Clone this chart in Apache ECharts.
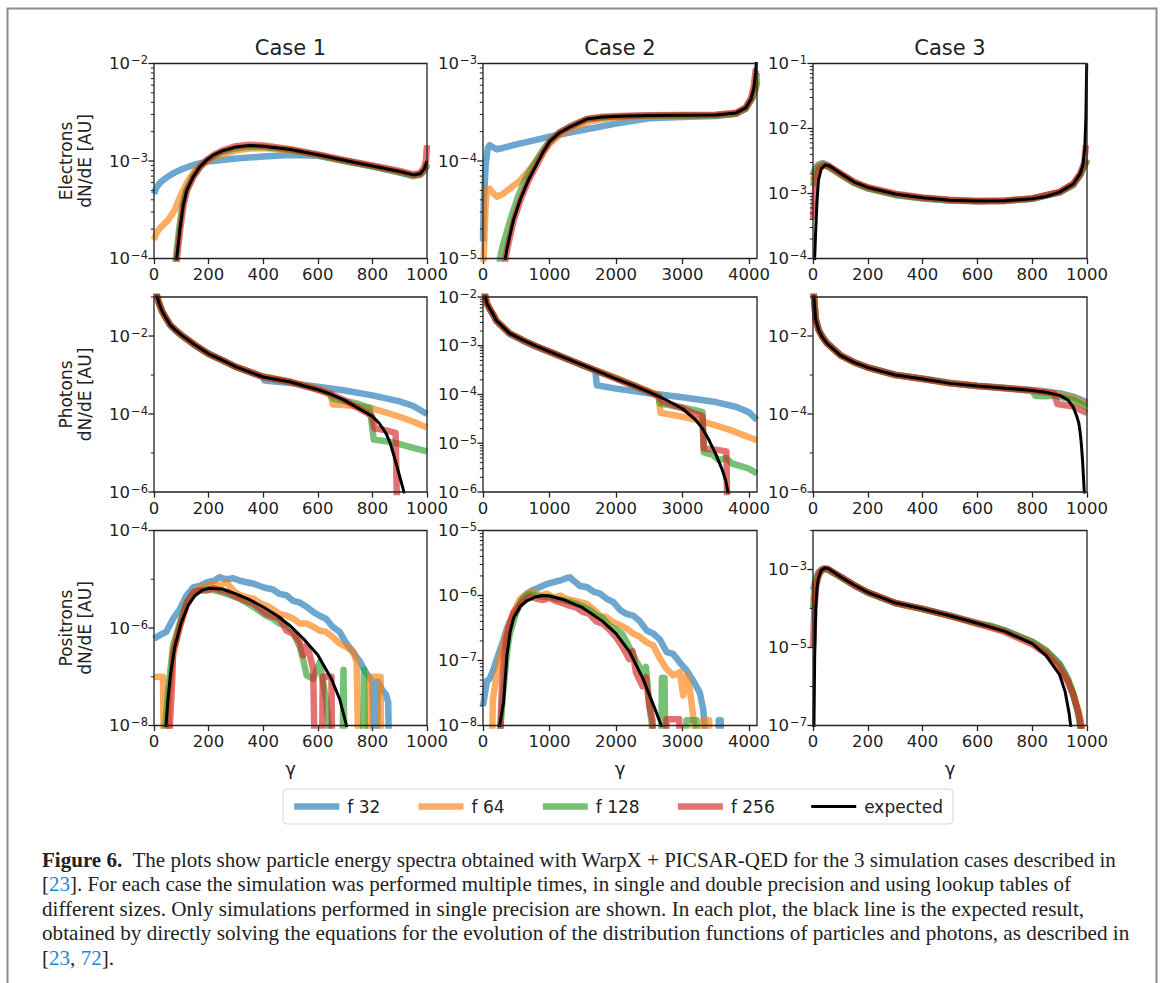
<!DOCTYPE html>
<html><head><meta charset="utf-8">
<script src="https://cdn.jsdelivr.net/npm/echarts@6/dist/echarts.min.js"></script>
<style>html,body{margin:0;padding:0;background:#fff}#chart{width:1163px;height:983px}</style>
</head><body><div id="chart"></div>
<script>
// ---------------- labels ----------------
const seriesNames = ['f 32', 'f 64', 'f 128', 'f 256', 'expected'];
const caseTitles = ['Case 1', 'Case 2', 'Case 3'];
const rowLabels = ['Electrons\ndN/dE [AU]', 'Photons\ndN/dE [AU]', 'Positrons\ndN/dE [AU]'];
const xLabel = 'γ';
const xTicksCase1 = [0, 200, 400, 600, 800, 1000];
const xTicksCase2 = [0, 1000, 2000, 3000, 4000];
const xTicksCase3 = [0, 200, 400, 600, 800, 1000];
const xRangeCase1 = [0, 1000];
const xRangeCase2 = [0, 4120];
const xRangeCase3 = [0, 1000];
// y ranges (decade exponents) per row, per case
const yRangeElectrons = [[-4, -2], [-5, -3], [-4, -1]];
const yRangePhotons = [[-6, -1], [-6, -2], [-6, -1]];
const yRangePositrons = [[-8, -4], [-8, -5], [-7, -2]];
const yLabelsElectrons = [[-4, -3, -2], [-5, -4, -3], [-4, -3, -2, -1]];
const yLabelsPhotons = [[-6, -4, -2], [-6, -5, -4, -3, -2], [-6, -4, -2]];
const yLabelsPositrons = [[-8, -6, -4], [-8, -7, -6, -5], [-7, -5, -3]];
const minorSubs = [2, 3, 4, 5, 6, 7, 8, 9];

// ---------------- data: Case 1 electrons ----------------
const el1_f32 = [[0,4.6e-4],[10,5.4e-4],[25,6.1e-4],[50,6.9e-4],[75,7.6e-4],[100,8.2e-4],[150,9.2e-4],[200,9.9e-4],[300,1.06e-3],[400,1.11e-3],[500,1.15e-3],[600,1.13e-3],[700,1.0e-3],[800,8.8e-4],[900,7.6e-4],[950,7.0e-4],[975,7.2e-4],[990,7.9e-4],[1000,9.0e-4]];
const el1_f64 = [[0,1.55e-4],[10,1.85e-4],[25,2.1e-4],[50,2.45e-4],[75,3.1e-4],[100,4.6e-4],[125,6.3e-4],[150,8.0e-4],[175,9.3e-4],[200,1.02e-3],[250,1.17e-3],[300,1.28e-3],[350,1.34e-3],[400,1.36e-3],[500,1.29e-3],[600,1.15e-3],[700,1.0e-3],[800,8.8e-4],[900,7.7e-4],[950,7.1e-4],[975,7.3e-4],[990,8.0e-4],[1000,9.3e-4]];
const el1_f128 = [[76,5e-5],[80,1e-4],[92,2.0e-4],[104,3.5e-4],[118,5.0e-4],[143,7.0e-4],[168,8.8e-4],[193,1.02e-3],[220,1.13e-3],[250,1.24e-3],[300,1.35e-3],[350,1.4e-3],[400,1.39e-3],[500,1.3e-3],[600,1.15e-3],[700,1.0e-3],[800,8.8e-4],[900,7.7e-4],[950,7.1e-4],[975,7.3e-4],[990,8.1e-4],[1000,9.5e-4]];
const el1_f256 = [[80,5e-5],[84,1e-4],[96,2.0e-4],[108,3.5e-4],[121,5.0e-4],[145,6.9e-4],[170,8.7e-4],[195,1.03e-3],[220,1.16e-3],[250,1.28e-3],[300,1.42e-3],[350,1.47e-3],[400,1.44e-3],[500,1.32e-3],[600,1.17e-3],[700,1.02e-3],[800,9.0e-4],[900,7.9e-4],[950,7.3e-4],[975,7.5e-4],[990,8.6e-4],[996,1.0e-3],[1000,1.45e-3]];
const el1_exp = [[80,5e-5],[83,1e-4],[95,2.0e-4],[107,3.5e-4],[120,5.0e-4],[144,6.9e-4],[168,8.7e-4],[193,1.02e-3],[217,1.15e-3],[250,1.27e-3],[300,1.39e-3],[350,1.44e-3],[400,1.42e-3],[500,1.31e-3],[600,1.16e-3],[700,1.01e-3],[800,8.9e-4],[900,7.8e-4],[950,7.2e-4],[975,7.4e-4],[990,8.3e-4],[1000,1.0e-3]];

// ---------------- data: Case 2 electrons ----------------
const el2_f32 = [[0,1.5e-5],[10,3.6e-5],[40,9e-5],[70,1.35e-4],[100,1.45e-4],[150,1.38e-4],[210,1.32e-4],[300,1.36e-4],[500,1.48e-4],[800,1.65e-4],[1000,1.78e-4],[1500,2.08e-4],[2000,2.42e-4],[2500,2.74e-4],[3000,2.82e-4],[3500,2.9e-4],[3800,3.05e-4],[3950,3.45e-4],[4050,4.4e-4],[4100,5.5e-4],[4120,6.5e-4]];
const el2_f64 = [[0,7e-6],[20,1.5e-5],[40,3.5e-5],[60,5.2e-5],[100,5.2e-5],[150,4.7e-5],[210,4.3e-5],[300,4.6e-5],[400,5.2e-5],[560,6.3e-5],[700,8.2e-5],[810,1.02e-4],[1000,1.5e-4],[1150,1.85e-4],[1310,2.15e-4],[1600,2.55e-4],[2000,2.8e-4],[2500,2.9e-4],[3000,2.93e-4],[3500,2.95e-4],[3800,3.05e-4],[3950,3.45e-4],[4050,4.5e-4],[4100,5.5e-4],[4120,7e-4]];
const el2_f128 = [[240,7e-6],[255,1e-5],[290,1.3e-5],[350,1.8e-5],[420,2.6e-5],[520,4.2e-5],[640,6.6e-5],[780,9.6e-5],[900,1.3e-4],[1000,1.6e-4],[1150,1.97e-4],[1310,2.25e-4],[1560,2.68e-4],[1800,2.8e-4],[2060,2.86e-4],[2500,2.92e-4],[3000,2.93e-4],[3500,2.95e-4],[3800,3.05e-4],[3950,3.45e-4],[4050,4.5e-4],[4100,6e-4],[4120,8e-4]];
const el2_f256 = [[320,7e-6],[338,1e-5],[365,1.25e-5],[405,1.66e-5],[465,2.5e-5],[565,4.0e-5],[685,6.3e-5],[815,9.3e-5],[905,1.22e-4],[1000,1.56e-4],[1150,1.96e-4],[1310,2.26e-4],[1560,2.7e-4],[1800,2.84e-4],[2060,2.9e-4],[2500,2.95e-4],[3000,2.96e-4],[3500,2.98e-4],[3800,3.12e-4],[3950,3.55e-4],[4030,4.4e-4],[4070,5.8e-4],[4100,8.5e-4],[4110,8.7e-4]];
const el2_exp = [[320,7e-6],[335,1e-5],[360,1.25e-5],[400,1.66e-5],[460,2.5e-5],[560,4.0e-5],[680,6.3e-5],[810,9.3e-5],[900,1.22e-4],[1000,1.58e-4],[1150,1.95e-4],[1310,2.24e-4],[1560,2.69e-4],[1800,2.82e-4],[2060,2.88e-4],[2500,2.93e-4],[3000,2.94e-4],[3500,2.96e-4],[3800,3.1e-4],[3950,3.5e-4],[4030,4.3e-4],[4070,5.5e-4],[4100,8e-4],[4115,1.2e-3]];

// ---------------- data: Case 3 electrons ----------------
const el3_f32 = [[0,2.0e-3],[10,2.5e-3],[20,2.8e-3],[35,2.95e-3],[50,2.8e-3],[100,2.0e-3],[150,1.46e-3],[200,1.2e-3],[300,9.5e-4],[400,8.4e-4],[500,7.8e-4],[600,7.7e-4],[700,7.8e-4],[800,8.3e-4],[900,1.04e-3],[950,1.35e-3],[975,1.9e-3],[990,2.6e-3],[1000,3.2e-3]];
const el3_f64 = [[0,1.6e-3],[10,2.3e-3],[20,2.7e-3],[35,2.85e-3],[50,2.75e-3],[100,2.0e-3],[150,1.48e-3],[200,1.22e-3],[300,9.7e-4],[400,8.5e-4],[500,7.9e-4],[600,7.7e-4],[700,7.8e-4],[800,8.4e-4],[900,1.05e-3],[950,1.4e-3],[975,1.95e-3],[990,2.7e-3],[1000,3.3e-3]];
const el3_f128 = [[0,1.3e-3],[10,2.2e-3],[20,2.6e-3],[35,2.75e-3],[50,2.65e-3],[100,1.95e-3],[150,1.45e-3],[200,1.2e-3],[300,9.6e-4],[400,8.5e-4],[500,7.8e-4],[600,7.6e-4],[700,7.7e-4],[800,8.3e-4],[900,1.04e-3],[950,1.38e-3],[975,1.95e-3],[990,2.7e-3],[1000,3.4e-3]];
const el3_f256 = [[0,4e-4],[8,1.2e-3],[15,2.0e-3],[25,2.5e-3],[40,2.7e-3],[60,2.6e-3],[100,2.05e-3],[150,1.52e-3],[200,1.25e-3],[300,9.9e-4],[400,8.7e-4],[500,8.0e-4],[600,7.6e-4],[700,7.7e-4],[800,8.4e-4],[900,1.06e-3],[950,1.42e-3],[975,2.0e-3],[990,3.0e-3],[996,5.5e-3]];
const el3_exp = [[3,5e-5],[6,1e-4],[10,2.8e-4],[15,8e-4],[20,1.6e-3],[30,2.4e-3],[45,2.75e-3],[60,2.65e-3],[100,2.05e-3],[150,1.5e-3],[200,1.24e-3],[300,9.8e-4],[400,8.6e-4],[500,7.9e-4],[600,7.7e-4],[700,7.75e-4],[800,8.3e-4],[850,9.0e-4],[900,1.05e-3],[950,1.4e-3],[975,2.0e-3],[985,2.7e-3],[992,5e-3],[996,1.5e-2],[999,1e-1]];

// ---------------- data: Case 1 photons ----------------
const ph1_f32 = [[2,2e-1],[12,1e-1],[20,6.3e-2],[30,4.2e-2],[40,3.1e-2],[60,1.85e-2],[80,1.35e-2],[100,1.03e-2],[150,5.7e-3],[200,3.4e-3],[250,2.35e-3],[300,1.6e-3],[398,8.9e-4],[405,7.2e-4],[450,6.7e-4],[500,6.2e-4],[600,5.0e-4],[700,4.0e-4],[800,3.0e-4],[900,2.1e-4],[950,1.6e-4],[1000,1.0e-4]];
const ph1_f64 = [[2,2e-1],[12,1e-1],[20,6.5e-2],[30,4.3e-2],[40,3.2e-2],[60,1.9e-2],[80,1.4e-2],[100,1.06e-2],[150,5.9e-3],[200,3.5e-3],[250,2.4e-3],[300,1.63e-3],[400,9.2e-4],[500,6.8e-4],[600,4.4e-4],[645,3.4e-4],[655,1.75e-4],[700,1.7e-4],[800,1.4e-4],[900,8.5e-5],[950,6.3e-5],[1000,4.5e-5]];
const ph1_f128 = [[2,2e-1],[12,1e-1],[20,6.4e-2],[30,4.3e-2],[40,3.2e-2],[60,1.9e-2],[80,1.4e-2],[100,1.06e-2],[150,5.9e-3],[200,3.5e-3],[250,2.4e-3],[300,1.62e-3],[400,9.0e-4],[500,6.6e-4],[600,4.2e-4],[645,3.3e-4],[655,2.5e-4],[700,2.15e-4],[750,1.8e-4],[790,1.45e-4],[805,2.2e-5],[850,2.0e-5],[900,1.7e-5],[950,1.35e-5],[1000,1.1e-5]];
const ph1_f256 = [[2,2e-1],[12,1e-1],[20,6.5e-2],[30,4.3e-2],[40,3.2e-2],[60,1.9e-2],[80,1.4e-2],[100,1.07e-2],[150,5.9e-3],[200,3.5e-3],[250,2.4e-3],[300,1.62e-3],[400,8.9e-4],[500,6.6e-4],[600,4.2e-4],[650,3.2e-4],[700,2.2e-4],[750,1.4e-4],[798,9.0e-5],[808,4.3e-5],[850,3.8e-5],[885,3.3e-5],[892,1e-7]];
const ph1_exp = [[3,2e-1],[12,1e-1],[20,6.5e-2],[30,4.3e-2],[40,3.2e-2],[60,1.9e-2],[80,1.4e-2],[100,1.07e-2],[150,5.9e-3],[200,3.5e-3],[250,2.4e-3],[300,1.62e-3],[400,8.9e-4],[500,6.6e-4],[600,4.2e-4],[650,3.2e-4],[700,2.2e-4],[750,1.38e-4],[800,8.7e-5],[825,5.8e-5],[850,3.2e-5],[865,1.8e-5],[880,8e-6],[890,4.5e-6],[900,2.5e-6],[910,1.4e-6],[917,9e-7]];

// ---------------- data: Case 2 photons ----------------
const ph2_f32 = [[0,3e-2],[30,1.1e-2],[60,7.1e-3],[100,5.6e-3],[160,4.1e-3],[200,3.2e-3],[400,1.75e-3],[600,1.27e-3],[800,9.5e-4],[1000,7.4e-4],[1250,5.4e-4],[1500,3.95e-4],[1690,3.1e-4],[1710,1.55e-4],[2000,1.32e-4],[2500,1.06e-4],[3000,8.8e-5],[3500,7.0e-5],[3800,5.6e-5],[4000,4.3e-5],[4120,3.0e-5]];
const ph2_f64 = [[0,3e-2],[30,1.1e-2],[60,7.3e-3],[100,5.8e-3],[160,4.2e-3],[200,3.3e-3],[400,1.8e-3],[600,1.3e-3],[800,9.7e-4],[1000,7.5e-4],[1250,5.5e-4],[1500,4.0e-4],[1750,2.95e-4],[2000,2.2e-4],[2250,1.6e-4],[2500,1.15e-4],[2640,9.5e-5],[2670,4.2e-5],[3000,3.5e-5],[3300,2.8e-5],[3700,1.9e-5],[4120,1.15e-5]];
const ph2_f128 = [[0,3e-2],[30,1.1e-2],[60,7.3e-3],[100,5.8e-3],[160,4.2e-3],[200,3.3e-3],[400,1.8e-3],[600,1.3e-3],[800,9.8e-4],[1000,7.6e-4],[1250,5.5e-4],[1500,4.0e-4],[1750,2.9e-4],[2000,2.15e-4],[2250,1.55e-4],[2500,1.12e-4],[2640,9.3e-5],[2660,6.5e-5],[3000,5.4e-5],[3300,4.4e-5],[3320,6.5e-6],[3450,5.8e-6],[3550,4.5e-6],[3650,5.0e-6],[3750,3.8e-6],[3900,3.3e-6],[4000,3.0e-6],[4120,2.4e-6]];
const ph2_f256 = [[0,3e-2],[30,1.1e-2],[60,7.3e-3],[100,5.8e-3],[160,4.2e-3],[200,3.3e-3],[400,1.8e-3],[600,1.3e-3],[800,9.8e-4],[1000,7.6e-4],[1250,5.5e-4],[1500,4.0e-4],[1750,2.9e-4],[2000,2.1e-4],[2250,1.55e-4],[2500,1.12e-4],[2650,9.0e-5],[2700,7.2e-5],[3000,5.2e-5],[3200,4.0e-5],[3300,3.6e-5],[3320,7.8e-6],[3500,7.4e-6],[3660,6.8e-6],[3680,1e-7]];
const ph2_exp = [[0,3e-2],[30,1.1e-2],[60,7.3e-3],[100,5.8e-3],[160,4.2e-3],[200,3.3e-3],[400,1.8e-3],[600,1.3e-3],[800,9.8e-4],[1000,7.6e-4],[1250,5.5e-4],[1500,4.0e-4],[1750,2.9e-4],[2000,2.1e-4],[2250,1.55e-4],[2500,1.12e-4],[2750,7.8e-5],[3000,5.1e-5],[3200,3.0e-5],[3300,2.0e-5],[3400,1.15e-5],[3500,6e-6],[3600,2.8e-6],[3650,1.7e-6],[3690,9e-7]];

// ---------------- data: Case 3 photons ----------------
const ph3_f32 = [[0,2e-1],[4,9e-2],[10,2.8e-2],[21,1.45e-2],[33,1e-2],[51,6.7e-3],[100,3.3e-3],[150,2.15e-3],[200,1.58e-3],[300,1.02e-3],[400,8.1e-4],[500,6.3e-4],[600,5.3e-4],[700,4.7e-4],[800,4.1e-4],[850,3.8e-4],[900,3.4e-4],[950,2.8e-4],[1000,2.0e-4]];
const ph3_f64 = [[0,2e-1],[4,9e-2],[10,2.7e-2],[21,1.42e-2],[33,9.8e-3],[51,6.6e-3],[100,3.25e-3],[150,2.12e-3],[200,1.56e-3],[300,1.01e-3],[400,8.0e-4],[500,6.2e-4],[600,5.25e-4],[700,4.65e-4],[800,4.0e-4],[850,3.7e-4],[900,3.2e-4],[950,2.6e-4],[1000,1.75e-4]];
const ph3_f128 = [[0,2e-1],[4,9e-2],[10,2.7e-2],[21,1.4e-2],[33,9.7e-3],[51,6.5e-3],[100,3.2e-3],[150,2.1e-3],[200,1.55e-3],[300,1.0e-3],[400,7.9e-4],[500,6.1e-4],[600,5.2e-4],[700,4.6e-4],[800,3.95e-4],[812,2.9e-4],[850,2.85e-4],[880,2.95e-4],[950,2.3e-4],[1000,1.5e-4]];
const ph3_f256 = [[0,2e-1],[4,9e-2],[10,2.7e-2],[21,1.4e-2],[33,9.7e-3],[51,6.5e-3],[100,3.2e-3],[150,2.1e-3],[200,1.55e-3],[300,1.0e-3],[400,7.9e-4],[500,6.1e-4],[600,5.2e-4],[700,4.6e-4],[800,4.0e-4],[880,3.3e-4],[892,1.8e-4],[950,1.55e-4],[1000,1.05e-4]];
const ph3_exp = [[1,2e-1],[3,1e-1],[10,2.6e-2],[21,1.4e-2],[33,9.6e-3],[51,6.5e-3],[100,3.2e-3],[150,2.1e-3],[200,1.55e-3],[300,1.0e-3],[400,7.9e-4],[500,6.1e-4],[600,5.2e-4],[700,4.6e-4],[800,4.0e-4],[850,3.6e-4],[900,3.0e-4],[930,2.3e-4],[950,1.5e-4],[962,9e-5],[970,5.9e-5],[976,3e-5],[980,1.5e-5],[984,6e-6],[987,2.5e-6],[990,1e-6],[992,5e-7]];

// ---------------- data: Case 1 positrons ----------------
const po1_f32 = [[0,6.0e-7],[20,7.1e-7],[45,8.3e-7],[70,1.55e-6],[95,2.45e-6],[120,4.7e-6],[145,6.9e-6],[170,7.4e-6],[195,8.7e-6],[220,9.3e-6],[240,1.1e-5],[265,1.0e-5],[290,1.05e-5],[315,9.3e-6],[340,8.7e-6],[365,8.1e-6],[390,7.2e-6],[410,6.6e-6],[435,6.2e-6],[460,5.0e-6],[485,4.7e-6],[510,3.6e-6],[535,3.3e-6],[560,2.7e-6],[585,2.1e-6],[605,1.8e-6],[630,1.55e-6],[655,1.05e-6],[680,8.3e-7],[705,4.8e-7],[730,3.2e-7],[755,2.0e-7],[775,1.26e-7],[800,7.8e-8],[808,1e-9],[815,1e-9],[820,8e-8],[835,5.5e-8],[850,4.3e-8],[858,3e-8],[862,1e-9]];
const po1_f64 = [[0,1.0e-7],[33,1.0e-7],[36,1e-9],[50,1e-9],[55,4e-8],[70,2.7e-7],[95,1.1e-6],[120,2.9e-6],[145,5.0e-6],[170,6.9e-6],[195,7.4e-6],[220,8.1e-6],[240,7.4e-6],[265,8.7e-6],[290,5.9e-6],[315,4.7e-6],[340,4.3e-6],[365,4.0e-6],[390,3.2e-6],[410,2.9e-6],[435,2.45e-6],[460,1.95e-6],[485,1.8e-6],[510,1.55e-6],[535,1.23e-6],[560,1.23e-6],[585,1.05e-6],[605,8.9e-7],[630,8.3e-7],[655,6.5e-7],[680,4.8e-7],[705,4.1e-7],[730,3.2e-7],[742,2.0e-7],[750,1e-9],[785,1e-9],[788,1e-7],[830,1e-7],[833,1e-9]];
const po1_f128 = [[38,5e-9],[42,1e-8],[50,4e-8],[70,4.4e-7],[95,1.3e-6],[120,3.4e-6],[145,5.0e-6],[170,5.9e-6],[195,6.3e-6],[220,5.9e-6],[240,5.6e-6],[265,5.0e-6],[315,4.0e-6],[365,2.7e-6],[410,1.8e-6],[435,1.55e-6],[460,1.23e-6],[485,1.12e-6],[510,8.3e-7],[534,4.1e-7],[546,2.3e-7],[559,1.07e-7],[583,9.1e-8],[607,2.0e-7],[632,3e-8],[640,1e-8],[645,1e-9],[690,1e-9],[694,1.4e-7],[699,1e-9],[765,1e-9],[769,1.4e-7],[774,1e-9]];
const po1_f256 = [[55,5e-9],[58,1e-8],[65,5e-8],[70,3.2e-7],[95,1.1e-6],[120,3.2e-6],[145,5.5e-6],[170,5.9e-6],[195,5.9e-6],[217,6.6e-6],[241,5.9e-6],[266,5.5e-6],[315,4.0e-6],[363,3.2e-6],[412,1.95e-6],[461,1.55e-6],[485,8.9e-7],[510,7.6e-7],[534,5.1e-7],[546,2.75e-7],[559,4.4e-7],[571,2.75e-7],[583,1.45e-7],[590,1e-9],[615,1e-9],[618,1e-7],[650,1e-7],[653,1e-9]];
const po1_exp = [[40,5e-9],[44,1e-8],[50,3.0e-8],[60,1.07e-7],[75,3.8e-7],[100,1.3e-6],[125,2.9e-6],[150,4.6e-6],[175,5.9e-6],[200,6.5e-6],[250,6.3e-6],[300,5.0e-6],[350,3.8e-6],[400,2.7e-6],[450,1.8e-6],[500,1.1e-6],[550,5.8e-7],[600,2.8e-7],[650,9e-8],[680,3.5e-8],[705,1e-8],[710,6e-9]];

// ---------------- data: Case 2 positrons ----------------
const po2_f32 = [[0,2.0e-8],[60,4.9e-8],[100,5.2e-8],[160,7.4e-8],[210,1.07e-7],[260,1.5e-7],[310,2.1e-7],[360,3.1e-7],[400,3.9e-7],[460,4.9e-7],[510,5.9e-7],[560,7.9e-7],[610,9.3e-7],[660,1.07e-6],[760,1.23e-6],[860,1.35e-6],[960,1.5e-6],[1060,1.6e-6],[1160,1.7e-6],[1260,1.86e-6],[1310,1.9e-6],[1360,1.7e-6],[1460,1.4e-6],[1560,1.35e-6],[1660,1.15e-6],[1760,1.07e-6],[1860,8.9e-7],[1960,7.9e-7],[2060,6.0e-7],[2160,5.2e-7],[2260,4.9e-7],[2360,4.0e-7],[2460,2.9e-7],[2560,2.6e-7],[2660,2.1e-7],[2760,1.35e-7],[2860,1.26e-7],[2960,9.3e-8],[3060,7.1e-8],[3160,4.9e-8],[3260,3.2e-8],[3310,1.8e-8],[3335,1e-8],[3340,5e-9],[3540,5e-9],[3545,1.2e-8],[3575,1.2e-8],[3580,5e-9]];
const po2_f64 = [[135,5e-9],[150,2.6e-8],[210,5.9e-8],[260,1.2e-7],[360,2.75e-7],[460,5.5e-7],[560,8.9e-7],[660,1.07e-6],[760,1.15e-6],[860,1.0e-6],[960,1.07e-6],[1060,9.3e-7],[1160,1.0e-6],[1260,8.9e-7],[1360,8.4e-7],[1460,7.9e-7],[1560,7.4e-7],[1660,6.2e-7],[1760,4.9e-7],[1860,4.6e-7],[1960,3.9e-7],[2060,3.5e-7],[2160,3.1e-7],[2260,2.6e-7],[2360,2.3e-7],[2460,1.9e-7],[2560,1.7e-7],[2660,1.07e-7],[2760,7.4e-8],[2860,5.9e-8],[2960,6.6e-8],[3010,2.9e-8],[3060,5.9e-8],[3110,3.6e-8],[3160,1.4e-8],[3185,5e-9],[3300,5e-9],[3310,1.2e-8],[3400,1.2e-8],[3410,5e-9]];
const po2_f128 = [[250,5e-9],[265,1e-8],[300,3e-8],[360,1.3e-7],[400,2.5e-7],[500,5.5e-7],[600,9e-7],[700,1.05e-6],[800,1.0e-6],[900,9.5e-7],[1000,9.5e-7],[1100,8.8e-7],[1200,8.5e-7],[1300,8.0e-7],[1400,7.5e-7],[1500,6.8e-7],[1600,6.0e-7],[1700,5.0e-7],[1800,4.5e-7],[1900,3.4e-7],[2000,3.0e-7],[2100,2.5e-7],[2200,1.6e-7],[2300,1.0e-7],[2400,6.5e-8],[2450,8e-8],[2500,2.2e-8],[2540,1e-8],[2550,5e-9],[2680,5e-9],[2690,5.4e-8],[2730,5.4e-8],[2740,5e-9],[3050,5e-9],[3060,1.2e-8],[3210,1.2e-8],[3220,5e-9]];
const po2_f256 = [[250,5e-9],[262,1e-8],[280,3e-8],[310,9e-8],[350,2.2e-7],[400,3.6e-7],[450,5.3e-7],[500,6.2e-7],[600,8.0e-7],[700,9.6e-7],[800,9.0e-7],[900,8.5e-7],[1000,9.2e-7],[1100,8.2e-7],[1200,7.6e-7],[1300,7.0e-7],[1400,6.6e-7],[1500,5.6e-7],[1600,5.2e-7],[1700,4.0e-7],[1800,3.7e-7],[1900,3.0e-7],[2000,2.3e-7],[2100,1.6e-7],[2200,1.05e-7],[2250,1.4e-7],[2300,6.5e-8],[2400,4.0e-8],[2450,5.5e-8],[2500,2.0e-8],[2550,1.2e-8],[2560,5e-9],[2750,5e-9],[2760,1.25e-8],[2950,1.25e-8],[2960,5e-9]];
const po2_exp = [[240,5e-9],[250,1e-8],[310,2.3e-8],[360,1.2e-7],[410,2.8e-7],[460,4.5e-7],[560,6.8e-7],[660,8.3e-7],[800,9.6e-7],[900,1.0e-6],[1000,9.8e-7],[1200,8.7e-7],[1500,6.5e-7],[1800,4.0e-7],[2000,2.6e-7],[2200,1.38e-7],[2400,5.4e-8],[2600,1.65e-8],[2680,1e-8],[2700,7e-9]];

// ---------------- data: Case 3 positrons ----------------
const po3_f32 = [[0,3e-4],[10,6e-4],[20,8.5e-4],[35,1.05e-3],[50,1.05e-3],[100,6.5e-4],[150,4.0e-4],[200,2.6e-4],[300,1.38e-4],[400,9.8e-5],[500,6.6e-5],[600,4.3e-5],[700,2.75e-5],[800,1.4e-5],[850,8.5e-6],[900,3.8e-6],[930,1.6e-6],[950,6e-7],[965,2.5e-7],[975,1.1e-7],[982,6e-8]];
const po3_f64 = [[0,1.5e-4],[10,5e-4],[20,8e-4],[35,1.03e-3],[50,1.03e-3],[100,6.4e-4],[150,3.95e-4],[200,2.55e-4],[300,1.38e-4],[400,9.6e-5],[500,6.5e-5],[600,4.2e-5],[700,2.7e-5],[800,1.38e-5],[850,8.2e-6],[900,3.6e-6],[930,1.5e-6],[950,7e-7],[970,2.2e-7],[980,1.1e-7],[985,6e-8]];
const po3_f128 = [[0,1e-4],[10,4.5e-4],[20,7.5e-4],[35,1.0e-3],[50,1.02e-3],[100,6.4e-4],[150,3.9e-4],[200,2.55e-4],[300,1.37e-4],[400,9.7e-5],[500,6.6e-5],[600,4.0e-5],[650,3.6e-5],[700,2.7e-5],[800,1.4e-5],[850,8.3e-6],[900,3.7e-6],[930,1.5e-6],[950,6.5e-7],[970,1.8e-7],[978,6e-8]];
const po3_f256 = [[0,1e-5],[5,1e-4],[12,4e-4],[25,8.5e-4],[40,1.05e-3],[55,1.05e-3],[100,6.6e-4],[150,4.0e-4],[200,2.6e-4],[300,1.4e-4],[400,9.8e-5],[500,6.4e-5],[600,4.1e-5],[700,2.5e-5],[800,1.2e-5],[850,7.0e-6],[900,3.0e-6],[930,1.3e-6],[950,6e-7],[970,2e-7],[980,8e-8]];
const po3_exp = [[3,5e-8],[6,5e-6],[10,1e-4],[15,3.5e-4],[20,6e-4],[30,9.5e-4],[45,1.1e-3],[60,1.02e-3],[100,6.5e-4],[150,4.0e-4],[200,2.6e-4],[300,1.4e-4],[400,9.8e-5],[500,6.5e-5],[600,4.2e-5],[700,2.6e-5],[800,1.25e-5],[850,6.3e-6],[900,2.0e-6],[920,7.5e-7],[935,2e-7],[942,8e-8]];

// ---------------- caption ----------------
const captionLines = [
  [['b', 'Figure 6.'], ['n', '  The plots show particle energy spectra obtained with WarpX + PICSAR-QED for the 3 simulation cases described in']],
  [['n', '['], ['l', '23'], ['n', ']. For each case the simulation was performed multiple times, in single and double precision and using lookup tables of']],
  [['n', 'different sizes. Only simulations performed in single precision are shown. In each plot, the black line is the expected result,']],
  [['n', 'obtained by directly solving the equations for the evolution of the distribution functions of particles and photons, as described in']],
  [['n', '['], ['l', '23'], ['n', ', '], ['l', '72'], ['n', '].']]
];

// ---------------- layout / style ----------------
const FONT = 'DejaVu Sans';
const CAPFONT = 'Liberation Serif';
const COLORS = ['#1f77b4', '#ff7f0e', '#2ca02c', '#d62728', '#000000'];
const ALPHA = 0.65, COLOR_W = 6.5, BLACK_W = 3;
const COL_L = [154, 483, 813], COL_W = [273, 274, 274];
const ROW_T = [63.5, 297, 530.5], ROW_H = 195;
const MAJOR_LEN = 5.6, MINOR_LEN = 3.2;
const TICK_FS = 16.5;

const panelData = [
  [[el1_f32, el1_f64, el1_f128, el1_f256, el1_exp], [el2_f32, el2_f64, el2_f128, el2_f256, el2_exp], [el3_f32, el3_f64, el3_f128, el3_f256, el3_exp]],
  [[ph1_f32, ph1_f64, ph1_f128, ph1_f256, ph1_exp], [ph2_f32, ph2_f64, ph2_f128, ph2_f256, ph2_exp], [ph3_f32, ph3_f64, ph3_f128, ph3_f256, ph3_exp]],
  [[po1_f32, po1_f64, po1_f128, po1_f256, po1_exp], [po2_f32, po2_f64, po2_f128, po2_f256, po2_exp], [po3_f32, po3_f64, po3_f128, po3_f256, po3_exp]]
];
const yRanges = [yRangeElectrons, yRangePhotons, yRangePositrons];
const yLabels = [yLabelsElectrons, yLabelsPhotons, yLabelsPositrons];
const xTicks = [xTicksCase1, xTicksCase2, xTicksCase3];
const xRanges = [xRangeCase1, xRangeCase2, xRangeCase3];

const expRich = {
  b: {fontFamily: FONT, fontSize: TICK_FS, lineHeight: 19, verticalAlign: 'middle', color: '#222'},
  s: {fontFamily: FONT, fontSize: 11.5, lineHeight: 10, verticalAlign: 'top', color: '#222', padding: [0, 0, 0, 1]}
};

const grids = [], xAxes = [], yAxes = [], series = [];
for (let r = 0; r < 3; r++) {
  for (let c = 0; c < 3; c++) {
    const idx = r * 3 + c;
    const [e0, e1] = yRanges[r][c];
    const labs = yLabels[r][c];
    grids.push({left: COL_L[c], top: ROW_T[r], width: COL_W[c], height: ROW_H, show: true,
      borderColor: '#222', borderWidth: 1.3, backgroundColor: 'transparent', z: 10});
    xAxes.push({type: 'value', gridIndex: idx, min: xRanges[c][0], max: xRanges[c][1],
      interval: c === 1 ? 1000 : 200,
      axisLine: {show: false}, splitLine: {show: false},
      axisTick: {show: true, length: MAJOR_LEN, customValues: xTicks[c], lineStyle: {color: '#222', width: 1.3}},
      axisLabel: {customValues: xTicks[c], formatter: v => String(v), fontFamily: FONT, fontSize: TICK_FS,
        lineHeight: 12, color: '#222', margin: 10}});
    yAxes.push({type: 'log', logBase: 10, gridIndex: idx, min: Math.pow(10, e0), max: Math.pow(10, e1),
      axisLine: {show: false}, splitLine: {show: false}, axisTick: {show: false}, minorTick: {show: false},
      axisLabel: {fontFamily: FONT, fontSize: TICK_FS, color: '#222', margin: 6, rich: expRich,
        formatter: v => { const e = Math.round(Math.log10(v)); return labs.includes(e) ? '{b|10}{s|' + (e < 0 ? '−' : '') + Math.abs(e) + '}' : ''; }}});
    panelData[r][c].forEach((arr, k) => {
      series.push({type: 'line', name: seriesNames[k], xAxisIndex: idx, yAxisIndex: idx, data: arr,
        symbol: 'none', showSymbol: false, silent: true, animation: false, clip: true, z: 2,
        color: COLORS[k], emphasis: {disabled: true},
        lineStyle: {color: COLORS[k], width: k < 4 ? COLOR_W : BLACK_W, opacity: k < 4 ? ALPHA : 1, join: 'round', cap: 'butt'}});
    });
    // y-axis tick marks (log decades + minor subdivisions), positioned by the axis scale
    const stride = labs.length > 1 ? labs[1] - labs[0] : 1;
    const ticks = [];
    for (let e = e0; e <= e1; e++) {
      ticks.push([xRanges[c][0], Math.pow(10, e), labs.includes(e) ? MAJOR_LEN : MINOR_LEN]);
      if (stride === 1 && e < e1) minorSubs.forEach(m => ticks.push([xRanges[c][0], m * Math.pow(10, e), MINOR_LEN]));
    }
    series.push({type: 'custom', xAxisIndex: idx, yAxisIndex: idx, data: ticks, silent: true, animation: false,
      clip: false, z: 11, encode: {x: 0, y: 1},
      renderItem: (params, api) => {
        const p = api.coord([api.value(0), api.value(1)]);
        const len = api.value(2);
        return {type: 'line', shape: {x1: p[0] - len, y1: p[1], x2: p[0], y2: p[1]},
          style: {stroke: '#222', lineWidth: len > 4 ? 1.3 : 1}};
      }});
  }
}

// ---------------- free text ----------------
const graphic = [];
graphic.push({type: 'rect', silent: true, shape: {x: 7.5, y: 8.5, width: 1149, height: 1000},
  style: {fill: 'none', stroke: '#8c8c8c', lineWidth: 2}});
caseTitles.forEach((t, c) => graphic.push({type: 'text', silent: true, x: COL_L[c] + COL_W[c] / 2, y: 48,
  style: {text: t, fontFamily: FONT, fontSize: 21, fill: '#222', align: 'center', verticalAlign: 'middle'}}));
rowLabels.forEach((t, r) => graphic.push({type: 'text', silent: true, x: 75, y: ROW_T[r] + ROW_H / 2, rotation: Math.PI / 2,
  style: {text: t, fontFamily: FONT, fontSize: 17, lineHeight: 19, fill: '#222', align: 'center', verticalAlign: 'middle'}}));
caseTitles.forEach((t, c) => graphic.push({type: 'text', silent: true, x: COL_L[c] + COL_W[c] / 2, y: 768,
  style: {text: xLabel, fontFamily: FONT, fontSize: 18, fill: '#222', align: 'center', verticalAlign: 'middle'}}));

const CAP_FS = 20;
const capTargets = [1076, 1030, 1043, 1088, null];
const capY = [860, 884.5, 909, 933.5, 958];
const mctx = document.createElement('canvas').getContext('2d');
const segW = ([s, t]) => { mctx.font = (s === 'b' ? 'bold ' : '') + CAP_FS + 'px "' + CAPFONT + '"'; return mctx.measureText(t).width; };
const scales = captionLines.map((segs, i) => capTargets[i] ? capTargets[i] / segs.reduce((a, s) => a + segW(s), 0) : null);
const known = scales.filter(s => s);
const meanScale = known.reduce((a, b) => a + b, 0) / known.length;
const rich = {
  b: {fontFamily: CAPFONT, fontSize: CAP_FS, fontWeight: 'bold', fill: '#222'},
  n: {fontFamily: CAPFONT, fontSize: CAP_FS, fill: '#222'},
  l: {fontFamily: CAPFONT, fontSize: CAP_FS, fill: '#1a88d8'}
};
captionLines.forEach((segs, i) => graphic.push({type: 'text', silent: true, x: 42, y: capY[i], scaleX: scales[i] || meanScale,
  style: {text: segs.map(([s, t]) => '{' + s + '|' + t + '}').join(''), rich, fontFamily: CAPFONT, fontSize: CAP_FS,
    align: 'left', verticalAlign: 'middle'}}));

const chart = echarts.init(document.getElementById('chart'), null, {renderer: 'svg'});
chart.setOption({
  backgroundColor: '#fff',
  animation: false,
  textStyle: {fontFamily: FONT},
  grid: grids, xAxis: xAxes, yAxis: yAxes, series,
  legend: {
    left: 283, top: 789, orient: 'horizontal', selectedMode: false,
    itemWidth: 45, itemHeight: 18, itemGap: 35, padding: [9, 10, 9, 8],
    borderColor: '#d6d6d6', borderWidth: 1, borderRadius: 4, backgroundColor: '#fff',
    textStyle: {fontFamily: FONT, fontSize: 17, color: '#222', padding: [0, 0, 0, 3]},
    data: seriesNames.map((n, k) => ({name: n, itemStyle: {opacity: 0},
      lineStyle: {color: COLORS[k], width: k < 4 ? COLOR_W : BLACK_W, opacity: k < 4 ? ALPHA : 1}}))
  },
  graphic
});
</script></body></html>
